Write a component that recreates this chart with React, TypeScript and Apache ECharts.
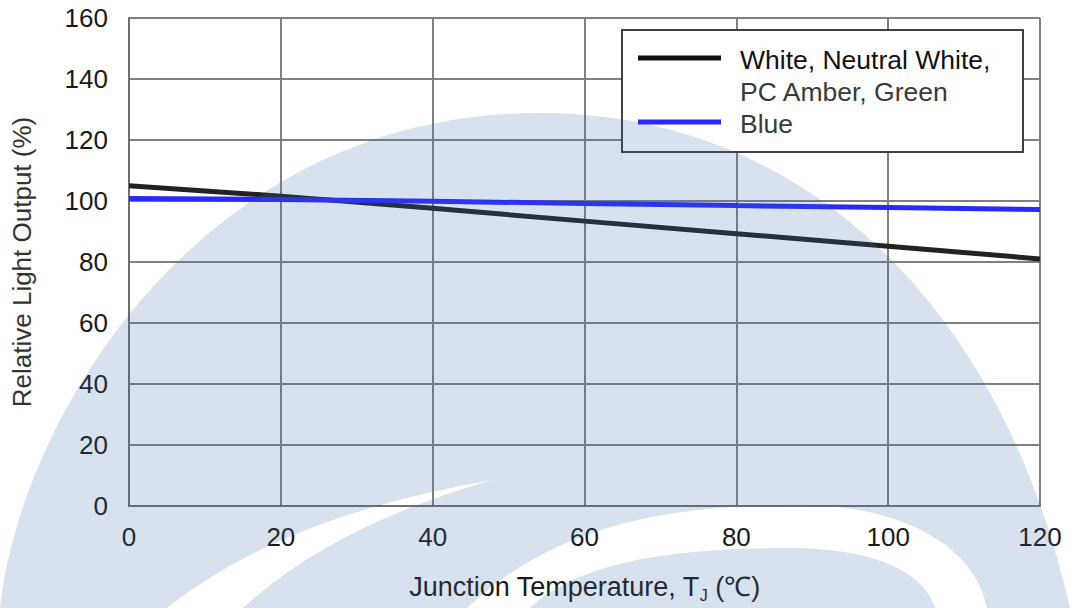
import React, { useEffect, useRef } from "react";
import * as echarts from "echarts";

const tempC = [0, 20, 40, 60, 80, 100, 120];
const whiteOutput = [105, 101.6, 97.6, 93.4, 89.3, 85.2, 81];
const blueOutput = [100.8, 100.5, 99.9, 99.2, 98.5, 97.9, 97.2];
const legendLabels = ["White, Neutral White,", "PC Amber, Green", "Blue"];

const FONT = "'Liberation Sans', Arial, sans-serif";

let registered = false;
function registerShapes() {
  if (registered) return;
  registered = true;
  const dome =
    "M 0 608 C 20 420 200 113 540 113 C 800 113 1000 300 1070 608 L 987 608 C 975 545 900 505 800 505 C 680 505 560 520 467 608 L 243 608 Q 332 526 492 480 Q 282 516 167 608 Z";
  const inner = "M 530 608 C 580 560 680 548 790 548 C 880 548 925 575 935 608 Z";
  echarts.graphic.registerShape("wmDome", echarts.graphic.extendPath(dome, {}));
  echarts.graphic.registerShape("wmInner", echarts.graphic.extendPath(inner, {}));
}

export default function App() {
  const ref = useRef<HTMLDivElement>(null);
  useEffect(() => {
    if (!ref.current) return;
    registerShapes();
    const chart = echarts.init(ref.current, undefined, { renderer: "svg" });
    const gridColor = "#808080";
    chart.setOption({
      animation: false,
      backgroundColor: "#ffffff",
      grid: { left: 129, right: 31, top: 18, bottom: 99 },
      xAxis: {
        type: "value",
        min: 0,
        max: 120,
        interval: 20,
        name: "{a|Junction Temperature, T}{s|J}{a| (℃)}",
        nameLocation: "middle",
        nameGap: 65,
        nameTextStyle: {
          rich: {
            a: { fontSize: 27, fontFamily: FONT, color: "#1a1a1a", lineHeight: 32 },
            s: { fontSize: 16, fontFamily: FONT, color: "#1a1a1a", lineHeight: 14, verticalAlign: "bottom" },
          },
        },
        axisLine: { show: true, lineStyle: { color: "#6e6e6e", width: 2 } },
        axisTick: { show: false },
        axisLabel: { fontSize: 26, fontFamily: FONT, color: "#1a1a1a", margin: 18 },
        splitLine: { show: true, lineStyle: { color: gridColor, width: 2 } },
      },
      yAxis: {
        type: "value",
        min: 0,
        max: 160,
        interval: 20,
        name: "Relative Light Output (%)",
        nameLocation: "middle",
        nameGap: 94,
        nameTextStyle: { fontSize: 26, fontFamily: FONT, color: "#333333" },
        axisLine: { show: true, lineStyle: { color: "#6e6e6e", width: 2 } },
        axisTick: { show: false },
        axisLabel: { fontSize: 26, fontFamily: FONT, color: "#1a1a1a", margin: 21 },
        splitLine: { show: true, lineStyle: { color: gridColor, width: 2 } },
      },
      series: [
        {
          name: "White, Neutral White, PC Amber, Green",
          type: "line",
          showSymbol: false,
          data: tempC.map((t, i) => [t, whiteOutput[i]]),
          lineStyle: { color: "#222222", width: 5 },
          z: 3,
        },
        {
          name: "Blue",
          type: "line",
          showSymbol: false,
          data: tempC.map((t, i) => [t, blueOutput[i]]),
          lineStyle: { color: "#2828ff", width: 5 },
          z: 4,
        },
      ],
      graphic: [
        {
          type: "rect",
          z: 50,
          shape: { x: 622, y: 30, width: 401, height: 122 },
          style: { fill: "#ffffff", stroke: "#404040", lineWidth: 2 },
        },
        {
          type: "line",
          z: 51,
          shape: { x1: 638, y1: 58, x2: 721, y2: 58 },
          style: { stroke: "#111111", lineWidth: 5 },
        },
        {
          type: "line",
          z: 51,
          shape: { x1: 638, y1: 122, x2: 721, y2: 122 },
          style: { stroke: "#2828ff", lineWidth: 5 },
        },
        {
          type: "text",
          z: 51,
          x: 740,
          y: 60,
          style: { text: legendLabels[0], fontSize: 26.5, fontFamily: FONT, fill: "#111111", verticalAlign: "middle" },
        },
        {
          type: "text",
          z: 51,
          x: 740,
          y: 92,
          style: { text: legendLabels[1], fontSize: 26.5, fontFamily: FONT, fill: "#3a3a3a", verticalAlign: "middle" },
        },
        {
          type: "text",
          z: 51,
          x: 740,
          y: 124,
          style: { text: legendLabels[2], fontSize: 26.5, fontFamily: FONT, fill: "#3a3a3a", verticalAlign: "middle" },
        },
        {
          type: "wmDome",
          z: 100,
          silent: true,
          x: 0,
          y: 0,
          style: { fill: "rgb(60,105,170)", opacity: 0.2 },
        },
        {
          type: "wmInner",
          z: 100,
          silent: true,
          x: 0,
          y: 0,
          style: { fill: "rgb(60,105,170)", opacity: 0.2 },
        },
      ],
    });
    return () => chart.dispose();
  }, []);
  return (
    <div
      ref={ref}
      style={{ position: "absolute", left: 0, top: 0, width: 1071, height: 608 }}
    />
  );
}
